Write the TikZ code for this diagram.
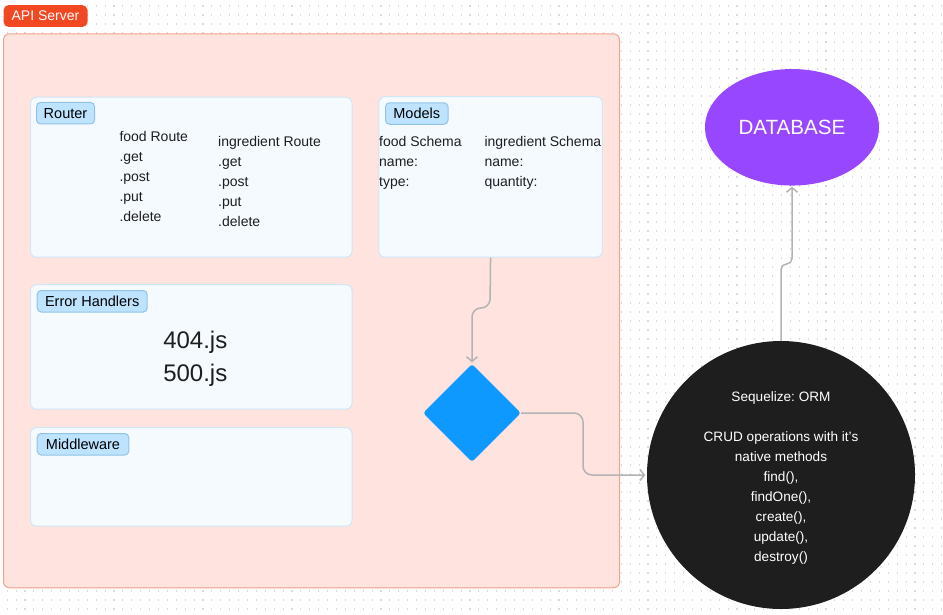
\documentclass[tikz,border=0pt]{standalone}
\usepackage{fontspec}
\setmainfont{Liberation Sans}
\usetikzlibrary{shapes.geometric,arrows.meta}
\definecolor{dotc}{HTML}{DADADA}
\definecolor{apired}{HTML}{F24822}
\definecolor{contfill}{HTML}{FFE3DE}
\definecolor{contline}{HTML}{F2A28E}
\definecolor{boxfill}{HTML}{F5FAFF}
\definecolor{boxline}{HTML}{CFE6F7}
\definecolor{tagfill}{HTML}{BDE3FF}
\definecolor{tagline}{HTML}{92C3E6}
\definecolor{diafill}{HTML}{0D99FF}
\definecolor{ormfill}{HTML}{1E1E1E}
\definecolor{dbfill}{HTML}{9747FF}
\definecolor{arrc}{HTML}{B3B3B3}
\definecolor{txt}{HTML}{1E1E1E}
\frenchspacing
\begin{document}
\begin{tikzpicture}[x=1pt,y=-1pt,
  panel/.style={draw=boxline, fill=boxfill, line width=1pt, rounded corners=6pt,
    anchor=north west, inner sep=0pt},
  tag/.style={draw=tagline, fill=tagfill, line width=1pt, rounded corners=4pt,
    anchor=north west, inner sep=0pt, minimum height=21.5pt, text=black,
    font=\fontsize{14.5}{16}\selectfont},
  body/.style={anchor=north west, inner sep=0pt, align=left, text=txt,
    font=\fontsize{14}{20}\selectfont},
  conn/.style={draw=arrc, line width=1.5pt, rounded corners=9pt,
    -{Straight Barb[length=4.5pt,width=11pt]}}
]
\useasboundingbox (0,0) rectangle (943,615);
\fill[white] (0,0) rectangle (943,615);
% dot grid
\foreach \r in {0,...,67}{
  \draw[dotc, line width=1.1pt, dash pattern=on 1.1pt off 7.8pt]
    (6.6,{6+9*\r}) -- (943,{6+9*\r});
}
% container
\node[draw=contline, fill=contfill, line width=1pt, rounded corners=6pt,
  anchor=north west, inner sep=0pt, minimum width=616pt, minimum height=554pt]
  (api) at (3,33.3) {};
\node[fill=apired, rounded corners=5pt, anchor=north west, inner sep=0pt,
  minimum width=84pt, minimum height=21.7pt, text=white,
  font=\fontsize{14}{16}\selectfont] (apilabel) at (3.3,5) {API Server};

% Router
\node[panel, minimum width=321.5pt, minimum height=160pt] (router) at (30,96.7) {};
\node[tag, minimum width=58pt] (routertag) at (36,102) {Router};
\node[body] (foodroute) at (119.3,131.5) {food Route\\.get\\.post\\.put\\.delete};
\node[body] (ingroute) at (218,136.5) {ingredient Route\\.get\\.post\\.put\\.delete};

% Models
\node[panel, minimum width=223.5pt, minimum height=160.5pt] (models) at (378.3,96.2) {};
\node[tag, minimum width=62.5pt] (modelstag) at (385,102.3) {Models};
\node[body] (foodschema) at (379,136.5) {food Schema\\name:\\type:};
\node[body] (ingschema) at (484.3,136.5) {ingredient Schema\\name:\\quantity:};

% Error handlers
\node[panel, minimum width=321.5pt, minimum height=124.5pt] (errors) at (30,284.2) {};
\node[tag, minimum width=110pt] (errorstag) at (36.7,290) {Error Handlers};
\node[align=center, inner sep=0pt, text=txt, font=\fontsize{24}{32.7}\selectfont]
  (errfiles) at (195.3,359) {404.js\\500.js};

% Middleware
\node[panel, minimum width=321.5pt, minimum height=98.5pt] (middle) at (30,427.2) {};
\node[tag, minimum width=91.6pt] (middletag) at (36.7,433) {Middleware};

% Diamond
\node[diamond, fill=diafill, rounded corners=3pt, minimum width=98pt,
  minimum height=98pt, inner sep=0pt] (dia) at (472,413) {};

% ORM circle
\node[circle, fill=ormfill, minimum size=268pt, inner sep=0pt] (orm) at (781,475) {};
\node[align=center, inner sep=0pt, text=white, font=\fontsize{13.6}{20}\selectfont]
  (ormtext) at (781,477.5)
  {Sequelize: ORM\\[20pt]CRUD operations with it’s\\native methods\\find(),\\findOne(),\\create(),\\update(),\\destroy()};

% Database
\node[ellipse, fill=dbfill, minimum width=174pt, minimum height=116.5pt, inner sep=0pt,
  text=white, font=\fontsize{20.6}{24}\selectfont] (db) at (792,127.3) {DATABASE};

% connectors
\coordinate (k1) at (490,308);
\coordinate (k2) at (472,308);
\draw[conn, shorten >=1.5pt] (models.south) -- (k1) -- (k2) -- (dia.north);
\coordinate (k3) at (583,413);
\draw[conn, shorten >=1.5pt] (dia.east) -- (k3) |- (orm.west);
\coordinate (k4) at (781,264);
\coordinate (k5) at (792,264);
\draw[conn, rounded corners=5.5pt, shorten >=1pt] (orm.north) -- (k4) -- (k5) -- (db.south);
\end{tikzpicture}
\end{document}
